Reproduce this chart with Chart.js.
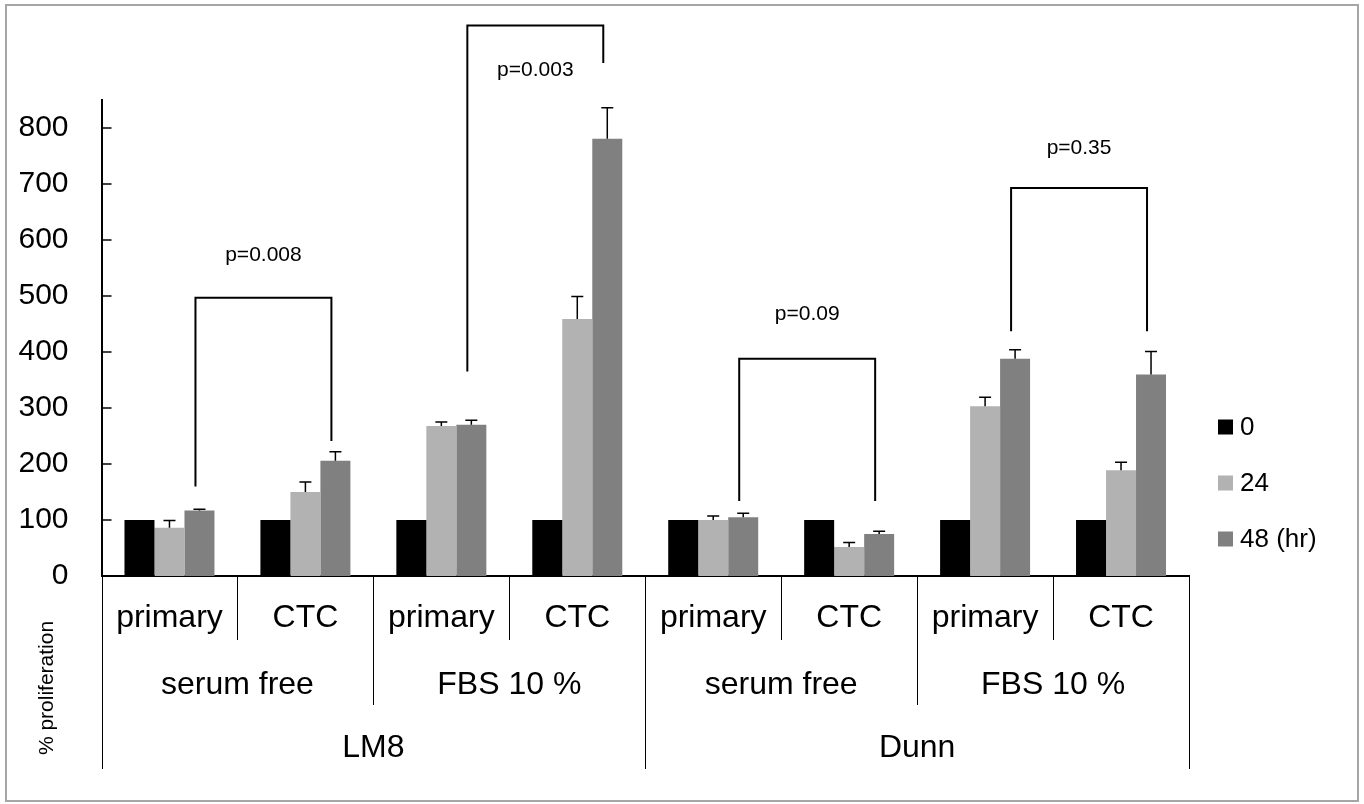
<!DOCTYPE html>
<html>
<head>
<meta charset="utf-8">
<script src="https://cdn.jsdelivr.net/npm/chart.js@4.4.0/dist/chart.umd.min.js"></script>
<style>
body { margin: 0; background: #fff; }
</style>
</head>
<body>
<canvas id="prolif" width="1364" height="804"></canvas>
<script>
// data
var categories = ['primary', 'CTC', 'primary', 'CTC', 'primary', 'CTC', 'primary', 'CTC']
var conditions = ['serum free', 'FBS 10 %', 'serum free', 'FBS 10 %']
var cellLines = ['LM8', 'Dunn']
var seriesLabels = ['0', '24', '48 (hr)']

var hr0 = [100, 100, 100, 100, 100, 100, 100, 100]
var hr24 = [86, 150, 268, 459, 100, 52, 303, 189]
var hr48 = [117, 206, 270, 781, 105, 75, 388, 360]
var err24 = [13, 18, 7, 40, 7, 8, 16, 14]
var err48 = [2, 16, 8, 55, 7, 5, 16, 41]

var yTicks = [0, 100, 200, 300, 400, 500, 600, 700, 800]

// p-value brackets (between the 48 hr bars of two categories)
var bracketFrom = [0, 2, 4, 6]
var bracketTo = [1, 3, 5, 7]
var bracketTop = [497, 983, 388, 693]
var bracketLeftEnd = [160, 365, 134, 437]
var bracketRightEnd = [241, 916, 134, 437]
var pLabels = ['p=0.008', 'p=0.003', 'p=0.09', 'p=0.35']
var pLabelAt = [573, 903, 468, 764]

var FONT = "'Liberation Sans', Arial, sans-serif"
var colors = ['#000000', '#b2b2b2', '#808080']

var frame = {
	id: 'frame',
	beforeDraw: function (chart) {
		var ctx = chart.ctx
		ctx.save()
		ctx.fillStyle = '#fff'
		ctx.fillRect(0, 0, chart.width, chart.height)
		ctx.strokeStyle = '#a6a6a6'
		ctx.lineWidth = 2
		ctx.strokeRect(6, 5, chart.width - 12, chart.height - 8)
		ctx.restore()
	}
}

var errorBars = {
	id: 'errorBars',
	afterDatasetsDraw: function (chart) {
		var ctx = chart.ctx
		var y = chart.scales.y
		var errs = [null, err24, err48]
		ctx.save()
		ctx.strokeStyle = '#000'
		ctx.lineWidth = 1.5
		for (var d = 1; d < 3; d++) {
			var meta = chart.getDatasetMeta(d)
			meta.data.forEach(function (bar, i) {
				var top = y.getPixelForValue(chart.data.datasets[d].data[i] + errs[d][i])
				ctx.beginPath()
				ctx.moveTo(bar.x, bar.y)
				ctx.lineTo(bar.x, top)
				ctx.moveTo(bar.x - 6, top)
				ctx.lineTo(bar.x + 6, top)
				ctx.stroke()
			})
		}
		ctx.restore()
	}
}

var brackets = {
	id: 'brackets',
	afterDraw: function (chart) {
		var ctx = chart.ctx
		var y = chart.scales.y
		var meta = chart.getDatasetMeta(2)
		ctx.save()
		ctx.strokeStyle = '#000'
		ctx.lineWidth = 2
		ctx.fillStyle = '#000'
		ctx.font = '21px ' + FONT
		ctx.textAlign = 'center'
		ctx.textBaseline = 'middle'
		for (var k = 0; k < pLabels.length; k++) {
			var x1 = meta.data[bracketFrom[k]].x - 4
			var x2 = meta.data[bracketTo[k]].x - 4
			var top = y.getPixelForValue(bracketTop[k])
			ctx.beginPath()
			ctx.moveTo(x1, y.getPixelForValue(bracketLeftEnd[k]))
			ctx.lineTo(x1, top)
			ctx.lineTo(x2, top)
			ctx.lineTo(x2, y.getPixelForValue(bracketRightEnd[k]))
			ctx.stroke()
			ctx.fillText(pLabels[k], (x1 + x2) / 2, y.getPixelForValue(pLabelAt[k]))
		}
		ctx.restore()
	}
}

// inward tick marks on the value axis
var innerTicks = {
	id: 'innerTicks',
	afterDraw: function (chart) {
		var ctx = chart.ctx
		var y = chart.scales.y
		var left = chart.chartArea.left
		ctx.save()
		ctx.strokeStyle = '#000'
		ctx.lineWidth = 1.5
		y.ticks.forEach(function (t) {
			var py = y.getPixelForValue(t.value)
			ctx.beginPath()
			ctx.moveTo(left, py)
			ctx.lineTo(left + 10, py)
			ctx.stroke()
		})
		ctx.restore()
	}
}

// three level category axis: type / condition / cell line
var groupAxis = {
	id: 'groupAxis',
	afterDraw: function (chart) {
		var ctx = chart.ctx
		var x = chart.scales.x
		var area = chart.chartArea
		var base = area.bottom
		var n = categories.length
		function edge(i) {
			if (i === 0) return area.left
			if (i === n) return area.right
			return (x.getPixelForValue(i - 1) + x.getPixelForValue(i)) / 2
		}
		ctx.save()
		ctx.strokeStyle = '#000'
		ctx.lineWidth = 1
		for (var i = 0; i <= n; i++) {
			var depth = i % 4 === 0 ? 193 : (i % 2 === 0 ? 129 : 64)
			var ex = Math.round(edge(i)) + 0.5
			ctx.beginPath()
			ctx.moveTo(ex, base)
			ctx.lineTo(ex, base + depth)
			ctx.stroke()
		}
		ctx.fillStyle = '#000'
		ctx.textAlign = 'center'
		ctx.textBaseline = 'middle'
		ctx.font = '32px ' + FONT
		categories.forEach(function (c, i) {
			ctx.fillText(c, x.getPixelForValue(i), base + 42)
		})
		conditions.forEach(function (c, i) {
			ctx.fillText(c, (edge(i * 2) + edge(i * 2 + 2)) / 2, base + 109)
		})
		cellLines.forEach(function (c, i) {
			ctx.fillText(c, (edge(i * 4) + edge(i * 4 + 4)) / 2, base + 172)
		})
		// axis title sits down in the lower left corner
		ctx.font = '21px ' + FONT
		ctx.translate(47, base + 112)
		ctx.rotate(-Math.PI / 2)
		ctx.fillText('% proliferation', 0, 0)
		ctx.restore()
	}
}

var sideLegend = {
	id: 'sideLegend',
	afterDraw: function (chart) {
		var ctx = chart.ctx
		var left = chart.chartArea.right + 29
		ctx.save()
		ctx.font = '26px ' + FONT
		ctx.textBaseline = 'middle'
		ctx.textAlign = 'left'
		chart.data.datasets.forEach(function (ds, i) {
			var cy = 427 + i * 56
			ctx.fillStyle = ds.backgroundColor
			ctx.fillRect(left, cy - 7.5, 15, 15)
			ctx.fillStyle = '#000'
			ctx.fillText(ds.label, left + 22, cy + 1)
		})
		ctx.restore()
	}
}

var ctxP = document.getElementById('prolif').getContext('2d')
var proliferationChart = new Chart(ctxP, {
	type: 'bar',
	data: {
		labels: categories,
		datasets: [
			{ label: seriesLabels[0], data: hr0, backgroundColor: colors[0] },
			{ label: seriesLabels[1], data: hr24, backgroundColor: colors[1] },
			{ label: seriesLabels[2], data: hr48, backgroundColor: colors[2] }
		]
	},
	options: {
		responsive: false,
		animation: false,
		datasets: {
			bar: { categoryPercentage: 0.662, barPercentage: 1.0 }
		},
		layout: { padding: { top: 100, right: 175, left: 0, bottom: 0 } },
		plugins: {
			legend: { display: false },
			tooltip: { enabled: false }
		},
		scales: {
			x: {
				grid: { display: false, drawTicks: false },
				ticks: { display: false },
				border: { display: true, color: '#000', width: 2 },
				afterFit: function (s) { s.height = 228 }
			},
			y: {
				min: 0,
				max: 850,
				grid: { display: false, drawTicks: false },
				border: { display: true, color: '#000', width: 2 },
				ticks: {
					stepSize: 100,
					padding: 33,
					color: '#000',
					font: { size: 30, family: FONT }
				},
				afterBuildTicks: function (s) {
					s.ticks = yTicks.map(function (v) { return { value: v } })
				},
				afterFit: function (s) { s.width = 101.5 }
			}
		}
	},
	plugins: [frame, errorBars, brackets, innerTicks, groupAxis, sideLegend]
})
</script>
</body>
</html>
